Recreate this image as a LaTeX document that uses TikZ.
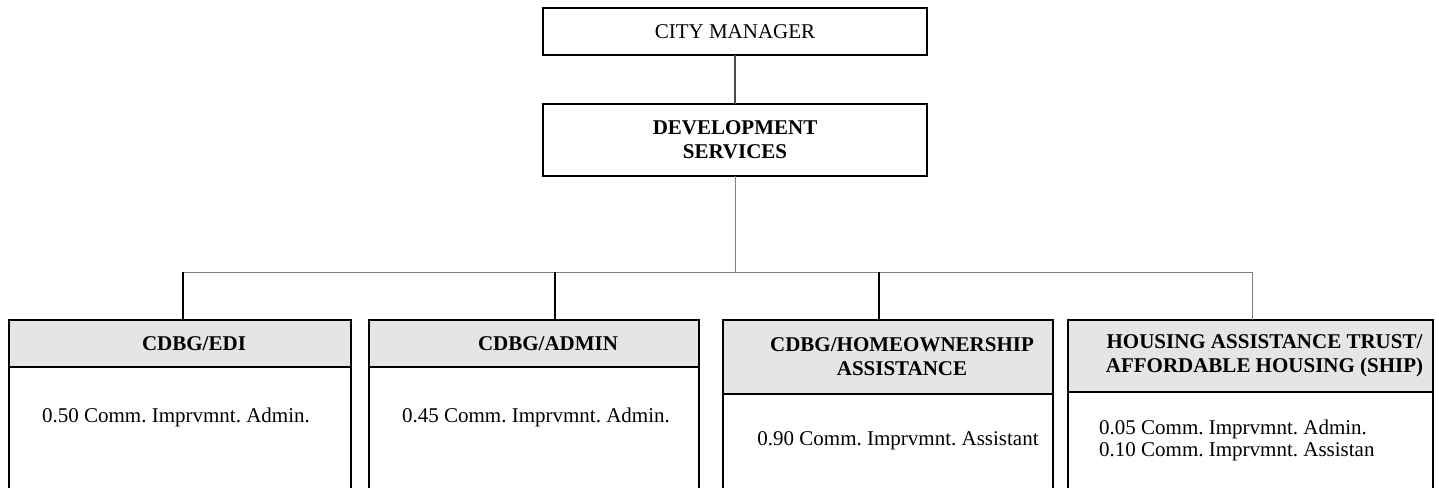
\documentclass[tikz,border=0pt]{standalone}
\usepackage{fontspec}
\setmainfont{Liberation Serif}
\frenchspacing
\begin{document}
\begin{tikzpicture}[
  x=1pt, y=-1pt,
  ofcbox/.style={draw, line width=1.5pt, inner sep=0pt, outer sep=0pt, font=\fontsize{21}{24}\selectfont},
  head/.style={ofcbox, fill=gray!20, minimum height=47pt},
  headtext/.style={font=\fontsize{21}{24}\selectfont\bfseries, align=center, inner sep=0pt},
  fte/.style={font=\fontsize{21}{22}\selectfont, align=left, inner sep=0pt},
  link/.style={line width=1.2pt},
  bus/.style={line width=1pt, gray},
]
  \path[use as bounding box] (0,0) rectangle (1439,487);
  % top of the chart
  \node[ofcbox, minimum width=384pt, minimum height=47pt] (cm) at (735,31.5) {CITY MANAGER};
  \node[ofcbox, minimum width=384pt, minimum height=72pt, font=\fontsize{21}{24}\selectfont\bfseries, align=center] (ds) at (735,140) {DEVELOPMENT\\SERVICES};
  % bus line
  \coordinate (bus0) at (735,272);
  \coordinate (bus1) at (183,272);
  \coordinate (bus2) at (555,272);
  \coordinate (bus3) at (879,272);
  \coordinate (bus4) at (1252,272);
  % divisions
  \node[head, minimum width=342pt] (edi) at (180,343.5) {};
  \node[head, minimum width=330pt] (adm) at (534,343.5) {};
  \node[head, minimum width=330pt, minimum height=74pt] (hom) at (888,357) {};
  \node[head, minimum width=365pt, minimum height=72pt] (hat) at (1250.5,356) {};
  \node[headtext] (editxt) at ([xshift=14pt]edi.center) {CDBG/EDI};
  \node[headtext] (admtxt) at ([xshift=14pt]adm.center) {CDBG/ADMIN};
  \node[headtext] (homtxt) at ([xshift=14pt]hom.center) {CDBG/HOMEOWNERSHIP\\ASSISTANCE};
  \node[headtext] (hattxt) at ([xshift=14pt]hat.center) {HOUSING ASSISTANCE TRUST/\\AFFORDABLE HOUSING (SHIP)};
  % open bottoms
  \coordinate (bot) at (0,492);
  \foreach \d in {edi,adm,hom,hat}
    \draw[line width=1.5pt] (\d.south west) -- (\d.south west |- bot)
      (\d.south east) -- (\d.south east |- bot);
  % staff
  \node[fte] (edifte) at (176,417) {0.50 Comm. Imprvmnt. Admin.};
  \node[fte] (admfte) at (536,417) {0.45 Comm. Imprvmnt. Admin.};
  \node[fte] (homfte) at (898,441) {0.90 Comm. Imprvmnt. Assistant};
  \node[fte, anchor=west] (hatfte) at (1099,440) {0.05 Comm. Imprvmnt. Admin.\\0.10 Comm. Imprvmnt. Assistan};
  % connectors
  \draw[link, black!70] (cm) -- (ds);
  \draw[bus] (ds) -- (bus0);
  \draw[bus] (bus1) -- (bus4);
  \draw[link] (bus1) -- (bus1 |- edi.north);
  \draw[link] (bus2) -- (bus2 |- adm.north);
  \draw[link] (bus3) -- (bus3 |- hom.north);
  \draw[bus] (bus4) -- (bus4 |- hat.north);
\end{tikzpicture}
\end{document}
